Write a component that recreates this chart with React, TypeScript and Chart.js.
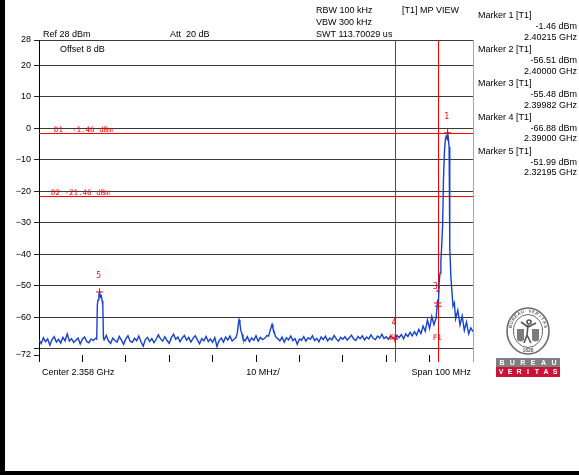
import React, { useEffect, useRef } from 'react';
import { Chart, registerables } from 'chart.js';

Chart.register(...registerables);

const FREQ_MIN_MHZ = 2308;
const FREQ_MAX_MHZ = 2408;
const LEVEL_MIN_DBM = -72;
const LEVEL_MAX_DBM = 28;

const yTickValues = [28, 20, 10, 0, -10, -20, -30, -40, -50, -60, -70, -72];
const yTickLabels = ['28', '20', '10', '0', '\u221210', '\u221220', '\u221230', '\u221240', '\u221250', '\u221260', '', '\u221272'];
const xTickValues = [2308, 2318, 2328, 2338, 2348, 2358, 2368, 2378, 2388, 2398, 2408];

// Trace: coarse sweep (0.5 MHz per point) from 2308 MHz
const noiseStartMHz = 2308;
const noiseStepMHz = 0.5;
const noiseLevels = [
  -67.2, -68.4, -66.5, -67.8, -66.9, -68.9, -67.1, -66.2, -67.9, -67.0,
  -68.2, -66.4, -67.5, -65.3, -67.6, -66.8, -68.0, -67.3, -66.6, -68.5,
  -67.0, -66.3, -67.7, -68.1, -66.9, -67.4, -66.7, -55.0, -53.0, -54.5,
  -67.2, -65.8, -67.5, -68.3, -66.6, -67.4, -67.9, -66.1, -67.3, -68.6,
  -66.9, -65.9, -67.6, -68.0, -66.7, -67.5, -66.0, -67.8, -69.2, -67.1,
  -66.4, -67.7, -66.8, -68.1, -67.0, -65.6, -66.9, -67.6, -66.2, -67.4,
  -68.3, -66.5, -65.4, -67.0, -66.3, -67.8, -66.6, -65.8, -67.3, -66.4,
  -67.9, -66.7, -65.9, -67.2, -68.4, -66.8, -67.5, -66.1, -67.7, -66.9,
  -68.0, -66.5, -69.3, -67.4, -66.6, -67.9, -66.3, -67.2, -66.0, -67.6,
  -66.9, -66.0, -61.5, -63.5, -66.8, -67.5, -66.2, -67.8, -66.6, -67.3,
  -65.9, -67.6, -66.4, -67.1, -66.7, -65.8, -65.2, -63.0, -63.8, -65.9,
  -66.8, -67.5, -66.3, -67.9, -66.5, -67.2, -66.0, -67.4, -66.8, -68.6,
  -66.9, -67.3, -66.2, -67.6, -66.5, -67.0, -65.9, -67.4, -66.7, -67.8,
  -66.3, -67.1, -66.0, -67.5, -66.6, -67.2, -65.8, -66.9, -67.6, -66.4,
  -67.0, -66.2, -67.3, -66.5, -65.7, -66.9, -67.4, -66.1, -66.8, -65.9,
  -67.2, -66.3, -66.9, -65.6, -66.7, -67.1, -66.0, -66.6, -65.4, -66.8,
  -66.2, -67.0, -65.9, -66.5, -66.9, -65.8, -66.4, -65.5, -66.9, -65.3,
  -66.1, -64.8, -65.9, -64.6, -65.7, -63.9, -65.2, -62.8, -64.5, -60.9,
  -63.6, -59.8, -62.4, -60.2, -56.5, -44.0, -31.0, -6.0, -2.5, -6.0,
  -49.0, -55.0, -60.5, -57.8, -62.5, -59.6, -64.2, -61.5, -65.3, -63.4,
  -64.6,
];

// Finer detail around the spurs and the carrier
const spur5Freqs = [2321.3, 2321.45, 2321.6, 2321.8, 2321.95, 2322.15, 2322.35, 2322.55, 2322.7, 2322.85];
const spur5Levels = [-67.0, -56.0, -54.5, -53.0, -52.0, -53.5, -53.2, -54.8, -56.0, -66.5];
const spurAFreqs = [2353.4, 2353.7, 2353.9, 2354.1, 2354.3, 2354.5, 2354.8, 2355.0];
const spurALevels = [-66.5, -65.0, -62.5, -60.8, -62.0, -64.2, -65.5, -66.8];
const spurBFreqs = [2360.9, 2361.2, 2361.5, 2361.7, 2361.9, 2362.2, 2362.5];
const spurBLevels = [-66.0, -64.5, -63.2, -62.3, -63.5, -64.8, -66.2];
const carrierFreqs = [2399.8, 2400.0, 2400.2, 2400.4, 2400.6, 2400.8, 2401.0, 2401.2, 2401.4, 2401.6, 2401.8, 2402.0, 2402.15, 2402.3, 2402.5, 2402.6, 2402.7, 2402.9, 2403.1, 2403.4, 2403.7];
const carrierLevels = [-55.5, -56.5, -49.0, -46.0, -42.0, -37.0, -31.0, -16.0, -8.0, -4.0, -2.6, -3.2, -1.46, -3.0, -6.0, -20.0, -38.0, -47.0, -51.0, -56.5, -55.5];

const markerNames = ['1', '2', '3', '4', '5'];
const markerFreqs = [2402.15, 2400.0, 2399.82, 2390.0, 2321.95];
const markerLevels = [-1.46, -56.51, -55.48, -66.88, -51.99];
const markerLevelTexts = ['-1.46 dBm', '-56.51 dBm', '-55.48 dBm', '-66.88 dBm', '-51.99 dBm'];
const markerFreqTexts = ['2.40215 GHz', '2.40000 GHz', '2.39982 GHz', '2.39000 GHz', '2.32195 GHz'];

const displayLineLevels = [-1.46, -21.46];
const displayLineTexts = ['D1  -1.46 dBm', 'D2 -21.46 dBm'];
const freqLineValues = [2400, 2390];
const freqLineTexts = ['F1', 'F2'];

const SANS = '"Liberation Sans", Arial, sans-serif';
const MONO = '"DejaVu Sans Mono", "Liberation Mono", monospace';
const RED = '#ff0000';

function buildTrace() {
  const segments: [number[], number[]][] = [
    [spur5Freqs, spur5Levels],
    [spurAFreqs, spurALevels],
    [spurBFreqs, spurBLevels],
    [carrierFreqs, carrierLevels],
  ];
  const pts: { x: number; y: number }[] = [];
  noiseLevels.forEach((v, i) => {
    const f = noiseStartMHz + i * noiseStepMHz;
    const inside = segments.some(([fs]) => f >= fs[0] && f <= fs[fs.length - 1]);
    if (!inside) pts.push({ x: f, y: v });
  });
  segments.forEach(([fs, ls]) => fs.forEach((f, i) => pts.push({ x: f, y: ls[i] })));
  pts.sort((a, b) => a.x - b.x);
  return pts;
}

function drawLogo(ctx: CanvasRenderingContext2D) {
  const cx = 528;
  const cy = 331;
  ctx.save();
  ctx.strokeStyle = '#6a6a6a';
  ctx.lineWidth = 1.6;
  ctx.beginPath();
  ctx.ellipse(cx, cy, 21, 23, 0, 0, Math.PI * 2);
  ctx.stroke();
  ctx.lineWidth = 1;
  ctx.beginPath();
  ctx.ellipse(cx, cy, 14.5, 16.5, 0, 0, Math.PI * 2);
  ctx.stroke();
  const txt = 'BUREAU VERITAS';
  ctx.fillStyle = '#5e5e5e';
  ctx.font = 'bold 4.5px ' + SANS;
  ctx.textAlign = 'center';
  ctx.textBaseline = 'middle';
  const a0 = -Math.PI * 0.93;
  const a1 = -Math.PI * 0.07;
  for (let i = 0; i < txt.length; i++) {
    const a = a0 + ((a1 - a0) * i) / (txt.length - 1);
    ctx.save();
    ctx.translate(cx + 17.8 * Math.cos(a), cy + 19.8 * Math.sin(a));
    ctx.rotate(a + Math.PI / 2);
    ctx.fillText(txt[i], 0, 0);
    ctx.restore();
  }
  ctx.font = 'bold 5px ' + SANS;
  ctx.fillText('1828', cx, cy + 19.5);
  ctx.fillStyle = '#7c7c7c';
  ctx.beginPath();
  ctx.moveTo(cx - 11, cy - 2);
  ctx.lineTo(cx - 4, cy - 2);
  ctx.lineTo(cx - 4, cy + 9);
  ctx.quadraticCurveTo(cx - 7.5, cy + 12, cx - 11, cy + 9);
  ctx.closePath();
  ctx.fill();
  ctx.beginPath();
  ctx.moveTo(cx + 4, cy - 2);
  ctx.lineTo(cx + 11, cy - 2);
  ctx.lineTo(cx + 11, cy + 9);
  ctx.quadraticCurveTo(cx + 7.5, cy + 12, cx + 4, cy + 9);
  ctx.closePath();
  ctx.fill();
  ctx.strokeStyle = '#555';
  ctx.lineWidth = 1.6;
  ctx.beginPath();
  ctx.arc(cx + 1, cy - 9, 2, 0, Math.PI * 2);
  ctx.stroke();
  ctx.beginPath();
  ctx.moveTo(cx, cy - 6);
  ctx.lineTo(cx - 1, cy + 4);
  ctx.lineTo(cx - 4, cy + 12);
  ctx.moveTo(cx - 1, cy + 4);
  ctx.lineTo(cx + 3, cy + 12);
  ctx.moveTo(cx, cy - 4);
  ctx.lineTo(cx - 7, cy - 9);
  ctx.moveTo(cx, cy - 4);
  ctx.lineTo(cx + 8, cy - 8);
  ctx.stroke();
  ctx.fillStyle = '#7f7f7f';
  ctx.fillRect(496, 358, 64, 9);
  ctx.fillStyle = '#cc1236';
  ctx.fillRect(496, 367, 64, 10);
  ctx.fillStyle = '#ffffff';
  ctx.font = 'bold 7px ' + SANS;
  const bw = 'BUREAU';
  for (let i = 0; i < bw.length; i++) ctx.fillText(bw[i], 502 + i * 10.4, 362.8);
  const vw = 'VERITAS';
  for (let i = 0; i < vw.length; i++) ctx.fillText(vw[i], 501 + i * 9, 372.3);
  ctx.restore();
}

const overlayPlugin = {
  id: 'overlay',
  beforeDraw(chart: any) {
    const { ctx, width, height } = chart;
    ctx.save();
    ctx.fillStyle = '#ffffff';
    ctx.fillRect(0, 0, width, height);
    ctx.restore();
  },
  beforeDatasetsDraw(chart: any) {
    const { ctx, chartArea: a, scales } = chart;
    const x = scales.x;
    const y = scales.y;
    ctx.save();
    ctx.strokeStyle = RED;
    ctx.lineWidth = 1;
    displayLineLevels.forEach((v) => {
      const py = Math.round(y.getPixelForValue(v)) + 0.5;
      ctx.beginPath();
      ctx.moveTo(a.left, py);
      ctx.lineTo(a.right, py);
      ctx.stroke();
    });
    freqLineValues.forEach((v) => {
      const px = Math.round(x.getPixelForValue(v)) + 0.5;
      ctx.beginPath();
      ctx.moveTo(px, a.top);
      ctx.lineTo(px, a.bottom + 7);
      ctx.stroke();
    });
    ctx.restore();
  },
  afterDatasetsDraw(chart: any) {
    const { ctx, chartArea: a, scales } = chart;
    const x = scales.x;
    const y = scales.y;
    ctx.save();
    ctx.fillStyle = RED;
    ctx.textBaseline = 'middle';
    ctx.font = '7.5px ' + MONO;
    ctx.textAlign = 'left';
    displayLineTexts.forEach((t, i) => {
      const py = y.getPixelForValue(displayLineLevels[i]);
      ctx.fillText(t, i === 0 ? 54 : 51, py - 3);
    });
    ctx.textAlign = 'center';
    freqLineTexts.forEach((t, i) => {
      ctx.fillText(t, x.getPixelForValue(freqLineValues[i]) - 1, a.bottom - 17);
    });
    ctx.font = '8px ' + MONO;
    markerNames.forEach((n, i) => {
      const px = x.getPixelForValue(markerFreqs[i]);
      const py = y.getPixelForValue(markerLevels[i]);
      ctx.fillText(n, px - 1 + (i === 1 ? 1 : 0) - (i === 2 ? 1 : 0), py - 16);
    });
    ctx.restore();
  },
  afterDraw(chart: any) {
    const { ctx, chartArea: a } = chart;
    ctx.save();
    ctx.strokeStyle = '#a8a8a8';
    ctx.lineWidth = 1;
    ctx.beginPath();
    ctx.moveTo(Math.round(a.right) + 0.5, a.top);
    ctx.lineTo(Math.round(a.right) + 0.5, a.bottom + 7);
    ctx.stroke();

    ctx.fillStyle = '#000';
    ctx.textBaseline = 'middle';
    ctx.font = '9px ' + SANS;
    ctx.textAlign = 'left';
    ctx.fillText('Ref 28 dBm', 43, 35);
    ctx.fillText('Att  20 dB', 170, 35);
    ctx.fillText('Offset 8 dB', 60, 50);
    ctx.fillText('RBW 100 kHz', 316, 11);
    ctx.fillText('VBW 300 kHz', 316, 23);
    ctx.fillText('SWT 113.70029 us', 316, 35);
    ctx.fillText('[T1] MP VIEW', 402, 11);
    markerNames.forEach((n, i) => {
      const by = 16 + i * 33.8;
      ctx.textAlign = 'left';
      ctx.fillText('Marker ' + n + ' [T1]', 478, by);
      ctx.textAlign = 'right';
      ctx.fillText(markerLevelTexts[i], 577, by + 11);
      ctx.fillText(markerFreqTexts[i], 577, by + 21.5);
    });
    ctx.textAlign = 'left';
    ctx.fillText('Center 2.358 GHz', 42, 373);
    ctx.textAlign = 'center';
    ctx.fillText('10 MHz/', 263, 373);
    ctx.textAlign = 'right';
    ctx.fillText('Span 100 MHz', 471, 373);

    drawLogo(ctx);

    ctx.fillStyle = '#000';
    ctx.fillRect(0, 0, 5, 475);
    ctx.fillRect(0, 471, 579, 4);
    ctx.restore();
  },
};

export default function App() {
  const ref = useRef<HTMLCanvasElement>(null);
  useEffect(() => {
    document.body.style.margin = '0';
    const canvas = ref.current;
    if (!canvas) return;
    const trace = buildTrace();
    const markers = markerFreqs.map((f, i) => ({ x: f, y: markerLevels[i] }));
    const chart = new Chart(canvas, {
      type: 'line',
      data: {
        datasets: [
          {
            type: 'scatter',
            data: markers,
            pointStyle: 'cross',
            pointRadius: 3.5,
            borderColor: RED,
            backgroundColor: RED,
            borderWidth: 1,
            order: 0,
          } as any,
          {
            data: trace,
            borderColor: '#1441d4',
            borderWidth: 1.4,
            pointRadius: 0,
            tension: 0,
            fill: false,
            order: 1,
          },
        ],
      },
      options: {
        animation: false,
        responsive: false,
        devicePixelRatio: 1,
        events: [],
        layout: { padding: { left: 0, top: 40, right: 106, bottom: 0 } },
        plugins: { legend: { display: false }, tooltip: { enabled: false } },
        scales: {
          x: {
            type: 'linear',
            min: FREQ_MIN_MHZ,
            max: FREQ_MAX_MHZ,
            afterBuildTicks: (s: any) => {
              s.ticks = xTickValues.map((v) => ({ value: v }));
            },
            afterFit: (s: any) => {
              s.height = 120;
            },
            grid: {
              drawOnChartArea: false,
              drawTicks: true,
              tickLength: 7,
              color: '#000',
              tickColor: (c: any) => (c.tick && c.tick.value === FREQ_MAX_MHZ ? '#a8a8a8' : '#000'),
            },
            border: { display: false },
            ticks: { display: false },
          },
          y: {
            type: 'linear',
            min: LEVEL_MIN_DBM,
            max: LEVEL_MAX_DBM,
            afterBuildTicks: (s: any) => {
              s.ticks = yTickValues.map((v) => ({ value: v }));
            },
            afterFit: (s: any) => {
              s.width = 39;
            },
            grid: {
              color: (c: any) => (c.tick && c.tick.value === LEVEL_MIN_DBM ? 'rgba(0,0,0,0)' : '#3a3a3a'),
              tickColor: '#222',
              tickLength: 5,
              lineWidth: 1,
            },
            border: { display: true, color: '#000' },
            ticks: {
              autoSkip: false,
              padding: 3,
              color: '#000',
              font: { family: SANS, size: 9 },
              callback: (v: any) => yTickLabels[yTickValues.indexOf(Number(v))],
            },
          },
        },
      },
      plugins: [overlayPlugin],
    } as any);
    return () => chart.destroy();
  }, []);
  return (
    <div style={{ width: 579, height: 475, position: 'relative', background: '#fff' }}>
      <canvas ref={ref} width={579} height={475} style={{ display: 'block' }} />
    </div>
  );
}
